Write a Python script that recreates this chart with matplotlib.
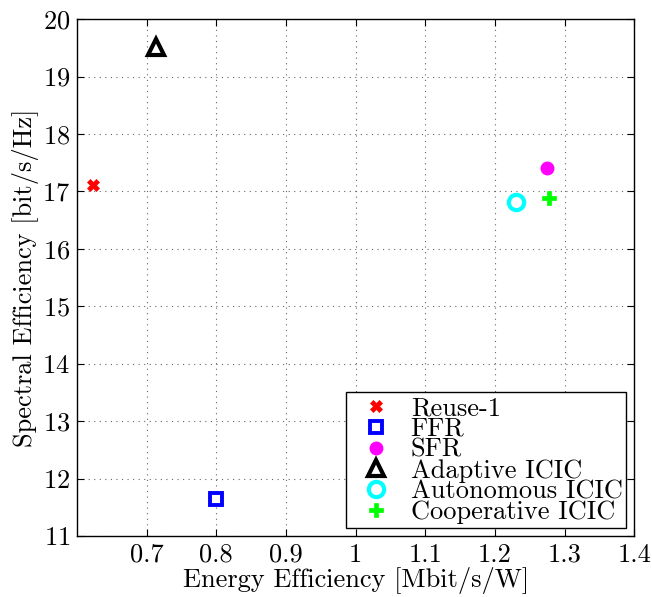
import matplotlib
matplotlib.use('Agg')
import matplotlib.pyplot as plt
from matplotlib import rcParams

rcParams['font.family'] = 'serif'
rcParams['font.serif'] = ['cmr10', 'DejaVu Serif']
rcParams['mathtext.fontset'] = 'cm'
rcParams['axes.formatter.use_mathtext'] = True

# scheme labels and (energy efficiency, spectral efficiency)
schemes = ['Reuse-1', 'FFR', 'SFR', 'Adaptive ICIC', 'Autonomous ICIC', 'Cooperative ICIC']
energy_eff = [0.6225, 0.800, 1.274, 0.713, 1.230, 1.277]
spectral_eff = [17.12, 11.64, 17.41, 19.52, 16.815, 16.885]

x_ticks = [0.7, 0.8, 0.9, 1.0, 1.1, 1.2, 1.3, 1.4]
x_tick_labels = ['0.7', '0.8', '0.9', '1', '1.1', '1.2', '1.3', '1.4']
y_ticks = list(range(11, 21))

styles = [
    dict(marker='X', color='red', mfc='red', mec='red', ms=9, mew=0.5),
    dict(marker='s', color='blue', mfc='white', mec='blue', ms=9, mew=2.8),
    dict(marker='o', color='magenta', mfc='magenta', mec='magenta', ms=9, mew=1),
    dict(marker='^', color='black', mfc='white', mec='black', ms=12, mew=3.0),
    dict(marker='o', color='cyan', mfc='white', mec='cyan', ms=11, mew=3.0),
    dict(marker='P', color='#00ff00', mfc='#00ff00', mec='#00ff00', ms=10, mew=0.5),
]

fig = plt.figure(figsize=(6.52, 5.97), dpi=100)
ax = fig.add_axes([0.118, 0.102, 0.855, 0.866])

for name, xv, yv, st in zip(schemes, energy_eff, spectral_eff, styles):
    ax.plot([xv], [yv], linestyle='none', label=name, **st)

ax.set_xlim(0.6, 1.4)
ax.set_ylim(11, 20)
ax.set_xticks(x_ticks)
ax.set_xticklabels(x_tick_labels)
ax.set_yticks(y_ticks)
ax.tick_params(direction='in', length=5, width=0.8, top=True, right=True,
               labelsize=19, pad=5)
for sp in ax.spines.values():
    sp.set_linewidth(1.0)
ax.grid(True, linestyle=(0, (1, 4)), color='#666666', linewidth=0.8)

ax.set_xlabel('Energy Efficiency [Mbit/s/W]', fontsize=19, labelpad=0)
ax.set_ylabel('Spectral Efficiency [bit/s/Hz]', fontsize=19, labelpad=2)

leg = ax.legend(loc='lower right', fontsize=19, frameon=True, fancybox=False,
                edgecolor='black', framealpha=1, labelspacing=-0.11,
                handletextpad=0.3, borderaxespad=0.3, borderpad=0.15,
                handlelength=2.0, numpoints=1)
leg.get_frame().set_linewidth(1.0)

fig.savefig('out.png', dpi=100)
